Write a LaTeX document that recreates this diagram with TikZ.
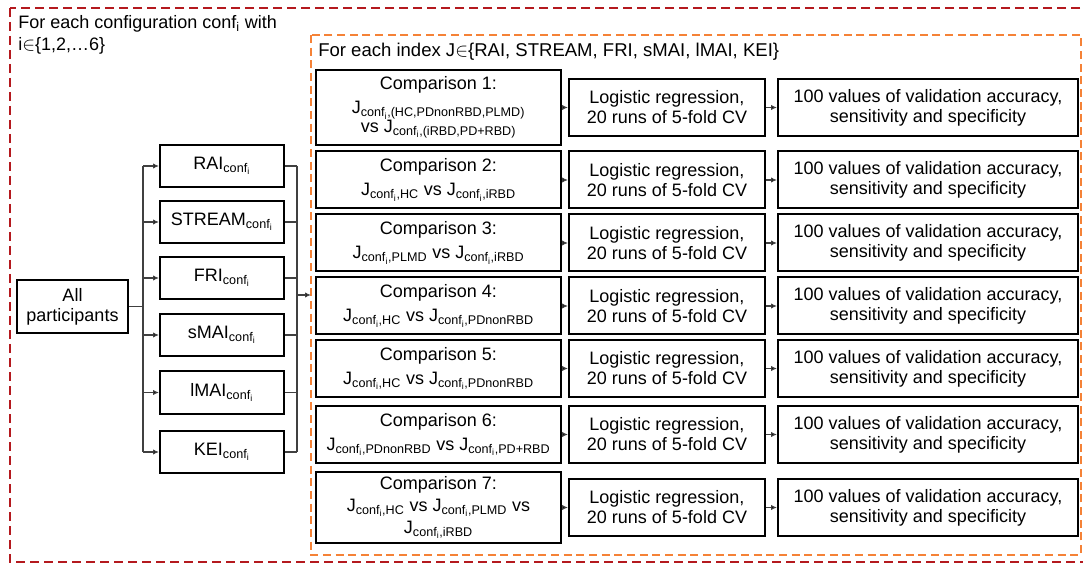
\documentclass[tikz,border=0pt]{standalone}
\usepackage{fontspec}
\setmainfont{Liberation Sans}
\usepackage{xcolor}
\usetikzlibrary{arrows.meta}
\definecolor{cfgred}{RGB}{180,25,30}
\definecolor{idxorange}{RGB}{245,130,55}
\newcommand{\cfi}{conf\textsubscript{i}}
\newcommand{\Jc}[1]{J\textsubscript{\cfi,#1}}

\begin{document}
\begin{tikzpicture}[
  x=0.75pt, y=-0.75pt,
  box/.style={draw, line width=1.5pt, align=center, inner sep=1pt},
  idx/.style={box, minimum width=93pt, minimum height=32pt},
  cmp/.style={box, minimum width=183.75pt, minimum height=42.75pt},
  lr/.style={box, minimum width=147pt, minimum height=42.75pt},
  res/.style={box, minimum width=225pt, minimum height=42.75pt},
  link/.style={line width=0.8pt, black!75},
  arr/.style={link, -{Latex[length=4.5pt,width=4pt,fill=black]}},
  cfgframe/.style={draw=cfgred, line width=1.5pt, dash pattern=on 6.75pt off 3.75pt},
  idxframe/.style={draw=idxorange, line width=1.3pt, dash pattern=on 6pt off 3.5pt},
  every node/.style={font=\fontsize{13.5}{15}\selectfont}]

\useasboundingbox (0,0) rectangle (1083,563);

% ================= the two loops ==========================================
\draw[cfgframe] (10,8) rectangle (1090,562);
\draw[idxframe] (311,35) rectangle (1081,555);
\node[anchor=north west, inner sep=0pt, align=left] (cfgtxt) at (18,15)
     {For each configuration \cfi{} with\\[1.5pt] i$\in$\{1,2,…6\}};
\node[anchor=base west, inner sep=0pt, font=\fontsize{13.9}{15}\selectfont] (idxtxt) at (318,57)
     {For each index J$\in$\{RAI, STREAM, FRI, sMAI, lMAI, KEI\}};

% ================= participants and indices ===============================
\node[box, minimum width=83.25pt, minimum height=39.75pt] (all) at (72.5,306.5)
     {All\\participants};

\node[idx] (rai)    at (222,166)   {RAI\textsubscript{\cfi}};
\node[idx] (stream) at (222,222)   {STREAM\textsubscript{\cfi}};
\node[idx] (fri)    at (222,278)   {FRI\textsubscript{\cfi}};
\node[idx] (smai)   at (222,335)   {sMAI\textsubscript{\cfi}};
\node[idx] (lmai)   at (222,392.5) {lMAI\textsubscript{\cfi}};
\node[idx] (kei)    at (222,452)   {KEI\textsubscript{\cfi}};

\coordinate (lb) at (143,306.5);
\coordinate (rb) at (297,295);
\coordinate (loopin) at (311,295);

\draw[link] (all) -- (lb);
\draw[link] (lb |- rai) -- (lb |- kei);
\draw[link] (rb |- rai) -- (rb |- kei);
\draw[arr]  (lb |- rai) -- (rai);     \draw[link] (rai) -- (rb |- rai);
\draw[arr]  (lb |- stream) -- (stream); \draw[link] (stream) -- (rb |- stream);
\draw[arr]  (lb |- fri) -- (fri);     \draw[link] (fri) -- (rb |- fri);
\draw[arr]  (lb |- smai) -- (smai);   \draw[link] (smai) -- (rb |- smai);
\draw[arr]  (lb |- lmai) -- (lmai);   \draw[link] (lmai) -- (rb |- lmai);
\draw[arr]  (lb |- kei) -- (kei);     \draw[link] (kei) -- (rb |- kei);
\draw[arr]  (rb) -- (loopin);

% ================= the seven comparisons ==================================
\node[cmp, minimum height=56.25pt] (cmp1) at (438.5,107.5)
     {Comparison 1:\\[3pt] \Jc{(HC,PDnonRBD,PLMD)}\\[-1pt] vs \Jc{(iRBD,PD+RBD)}};
\node[cmp] (cmp2) at (438.5,180)   {Comparison 2:\\[3pt] \Jc{HC} vs \Jc{iRBD}};
\node[cmp] (cmp3) at (438.5,243)   {Comparison 3:\\[3pt] \Jc{PLMD} vs \Jc{iRBD}};
\node[cmp] (cmp4) at (438.5,306)   {Comparison 4:\\[3pt] \Jc{HC} vs \Jc{PDnonRBD}};
\node[cmp] (cmp5) at (438.5,368.5) {Comparison 5:\\[3pt] \Jc{HC} vs \Jc{PDnonRBD}};
\node[cmp] (cmp6) at (438.5,434.5) {Comparison 6:\\[3pt] \Jc{PDnonRBD} vs \Jc{PD+RBD}};
\node[cmp, minimum height=53.25pt] (cmp7) at (438.5,507.5)
     {Comparison 7:\\[1.5pt] \Jc{HC} vs \Jc{PLMD} vs\\[1pt] \Jc{iRBD}};

\node[lr] (lr1) at (667,107.5) {Logistic regression,\\20 runs of 5-fold CV};
\node[lr] (lr2) at (667,180)   {Logistic regression,\\20 runs of 5-fold CV};
\node[lr] (lr3) at (667,243)   {Logistic regression,\\20 runs of 5-fold CV};
\node[lr] (lr4) at (667,306)   {Logistic regression,\\20 runs of 5-fold CV};
\node[lr] (lr5) at (667,368.5) {Logistic regression,\\20 runs of 5-fold CV};
\node[lr] (lr6) at (667,434.5) {Logistic regression,\\20 runs of 5-fold CV};
\node[lr] (lr7) at (667,507.5) {Logistic regression,\\20 runs of 5-fold CV};

\node[res] (res1) at (928,107.5) {100 values of validation accuracy,\\sensitivity and specificity};
\node[res] (res2) at (928,180)   {100 values of validation accuracy,\\sensitivity and specificity};
\node[res] (res3) at (928,243)   {100 values of validation accuracy,\\sensitivity and specificity};
\node[res] (res4) at (928,306)   {100 values of validation accuracy,\\sensitivity and specificity};
\node[res] (res5) at (928,368.5) {100 values of validation accuracy,\\sensitivity and specificity};
\node[res] (res6) at (928,434.5) {100 values of validation accuracy,\\sensitivity and specificity};
\node[res] (res7) at (928,507.5) {100 values of validation accuracy,\\sensitivity and specificity};

\draw[arr] (cmp1) -- (lr1);  \draw[arr] (lr1) -- (res1);
\draw[arr] (cmp2) -- (lr2);  \draw[arr] (lr2) -- (res2);
\draw[arr] (cmp3) -- (lr3);  \draw[arr] (lr3) -- (res3);
\draw[arr] (cmp4) -- (lr4);  \draw[arr] (lr4) -- (res4);
\draw[arr] (cmp5) -- (lr5);  \draw[arr] (lr5) -- (res5);
\draw[arr] (cmp6) -- (lr6);  \draw[arr] (lr6) -- (res6);
\draw[arr] (cmp7) -- (lr7);  \draw[arr] (lr7) -- (res7);

\end{tikzpicture}
\end{document}
